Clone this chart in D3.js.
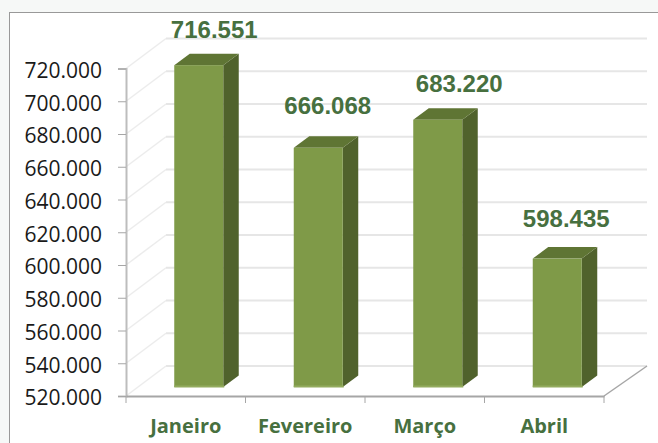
<!DOCTYPE html>
<html>
<head>
<meta charset="utf-8">
<script src="https://cdn.jsdelivr.net/npm/d3@7"></script>
<style>
  html, body { margin: 0; padding: 0; background: #f6f8f7; }
  svg { display: block; }
</style>
</head>
<body>
<svg id="chart"></svg>
<script>
const months = ['Janeiro', 'Fevereiro', 'Março', 'Abril']
const visits = [716551, 666068, 683220, 598435]
const valueLabels = ['716.551', '666.068', '683.220', '598.435']
const yTicks = [520000, 540000, 560000, 580000, 600000, 620000, 640000, 660000, 680000, 700000, 720000]

const width = 658
const height = 443
const svg = d3.select('#chart').attr('width', width).attr('height', height)

// fake 3d: back wall is shifted from the front axis, bars stand in the middle of the floor
const wall = { dx: 40, dy: -30 }
const depth = { dx: 15.5, dy: -11.5 }
const barLift = -9
const barW = 49
const barShift = 13
const labelNudge = [15.5, 9.5, 21.5, 9]
const labelGap = [15.5, 22, 16.5, 20]

const x = d3.scaleBand().domain(months).range([126, 604])
const y = d3.scaleLinear().domain([520000, 720000]).range([396, 68.5])

const fmt = d => d3.format('.3f')(d / 1000)

// panel
svg.append('rect').attr('x', 9.5).attr('y', 12.5).attr('width', width).attr('height', height)
  .attr('fill', '#fff').attr('stroke', '#999')

// walls
const grid = svg.append('g').attr('fill', 'none')
yTicks.forEach(t => {
  grid.append('line')
    .attr('stroke', '#e6e6e6').attr('stroke-width', 2)
    .attr('x1', x.range()[0] + wall.dx).attr('x2', x.range()[1] + wall.dx + 3)
    .attr('y1', y(t) + wall.dy).attr('y2', y(t) + wall.dy)
  grid.append('line')
    .attr('stroke', '#ececec').attr('stroke-width', 1.5)
    .attr('x1', x.range()[0]).attr('x2', x.range()[0] + wall.dx)
    .attr('y1', y(t)).attr('y2', y(t) + wall.dy)
})

// floor edge on the right
svg.append('line')
  .attr('x1', x.range()[1]).attr('y1', y(520000))
  .attr('x2', x.range()[1] + wall.dx + 3).attr('y2', y(520000) + wall.dy)
  .attr('stroke', '#a6a6a6').attr('stroke-width', 1.5)

// bars
const bars = svg.selectAll('.bar')
  .data(months.map((m, i) => ({ m, v: visits[i], label: valueLabels[i], i })))
  .enter().append('g').attr('class', 'bar')

const barLeft = d => x(d.m) + (x.bandwidth() - barW) / 2 + barShift
const barTop = d => y(d.v) + barLift
const barBottom = y(520000) + barLift

bars.append('path')
  .attr('fill', '#50622c')
  .attr('d', d => {
    const r = barLeft(d) + barW
    return `M${r},${barTop(d)}L${r + depth.dx},${barTop(d) + depth.dy}L${r + depth.dx},${barBottom + depth.dy}L${r},${barBottom}Z`
  })

bars.append('path')
  .attr('fill', '#5f7534')
  .attr('d', d => {
    const l = barLeft(d)
    const t = barTop(d)
    return `M${l},${t}L${l + depth.dx},${t + depth.dy}L${l + barW + depth.dx},${t + depth.dy}L${l + barW},${t}Z`
  })

bars.append('rect')
  .attr('x', barLeft)
  .attr('y', barTop)
  .attr('width', barW)
  .attr('height', d => barBottom - barTop(d))
  .attr('fill', '#7f9a48')

bars.append('rect')
  .attr('x', barLeft)
  .attr('y', barBottom - 1.5)
  .attr('width', barW + 1)
  .attr('height', 2)
  .attr('fill', '#93ab5f')

bars.append('text')
  .attr('x', d => barLeft(d) + barW / 2 + labelNudge[d.i])
  .attr('y', d => barTop(d) + depth.dy - labelGap[d.i])
  .attr('text-anchor', 'middle')
  .attr('font-family', '"Liberation Sans", Arial, sans-serif')
  .attr('font-weight', 'bold')
  .attr('font-size', 24)
  .attr('fill', '#47703f')
  .text(d => d.label)

// axes
const yAxis = d3.axisLeft(y).tickValues(yTicks).tickFormat(fmt).tickSize(8).tickPadding(16)
const gy = svg.append('g').attr('transform', 'translate(126,0)').call(yAxis)
gy.selectAll('text')
  .attr('font-family', '"Open Sans", sans-serif')
  .attr('font-size', 21)
  .attr('dy', '0.42em')
  .attr('fill', '#1a1a1a')
gy.selectAll('line').attr('stroke', '#a6a6a6')
gy.select('.domain').attr('stroke', '#bdbdbd').attr('stroke-width', 2)

const xAxis = d3.axisBottom(x).tickSize(0).tickPadding(23)
const gx = svg.append('g').attr('transform', 'translate(0,396)').call(xAxis)
gx.selectAll('text')
  .attr('font-family', '"Open Sans", sans-serif')
  .attr('font-weight', 'bold')
  .attr('font-size', 20)
  .attr('fill', '#47703f')
gx.select('.domain').attr('stroke', '#a6a6a6').attr('stroke-width', 2)
gx.selectAll('.edge')
  .data(months.concat('end'))
  .enter().append('line')
  .attr('class', 'edge')
  .attr('x1', (d, i) => x.range()[0] + i * x.bandwidth())
  .attr('x2', (d, i) => x.range()[0] + i * x.bandwidth())
  .attr('y1', 0).attr('y2', 7)
  .attr('stroke', '#a6a6a6')
</script>
</body>
</html>
